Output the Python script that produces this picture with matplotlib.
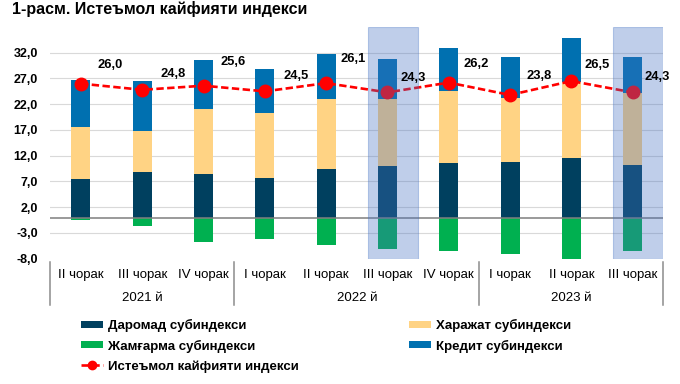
import matplotlib
matplotlib.use("Agg")
import matplotlib.pyplot as plt
import matplotlib.transforms as mtransforms
from matplotlib.patches import Patch
from matplotlib.lines import Line2D
import numpy as np

plt.rcParams['font.family'] = ['Liberation Sans', 'DejaVu Sans']

# ---- data ----
quarters = ["II чорак", "III чорак", "IV чорак",
            "I чорак", "II чорак", "III чорак", "IV чорак",
            "I чорак", "II чорак", "III чорак"]
years = ["2021 й", "2022 й", "2023 й"]
year_sizes = [3, 4, 3]
income = [7.4, 8.85, 8.4, 7.7, 9.5, 10.0, 10.5, 10.8, 11.6, 10.15]
expense = [10.1, 7.95, 12.6, 12.6, 13.6, 13.1, 14.0, 12.4, 14.7, 13.95]
credit = [9.2, 9.8, 9.5, 8.5, 8.6, 7.7, 8.4, 7.9, 8.6, 7.0]
savings = [-0.5, -1.7, -4.7, -4.2, -5.4, -6.2, -6.5, -7.1, -8.0, -6.55]
index_vals = [26.0, 24.8, 25.6, 24.5, 26.1, 24.3, 26.2, 23.8, 26.5, 24.3]
highlighted = [5, 9]
yticks = [-8, -3, 2, 7, 12, 17, 22, 27, 32]

names = ["Даромад субиндекси", "Харажат субиндекси", "Жамғарма субиндекси",
         "Кредит субиндекси", "Истеъмол кайфияти индекси"]
title = "1-расм. Истеъмол кайфияти индекси"

# ---- style ----
c_income = "#00405F"
c_expense = "#FFD384"
c_savings = "#00B050"
c_credit = "#0070B0"
c_line = "#FF0000"
label_offsets = [(29, -19), (31, -16), (30, -24), (31, -15), (27, -24),
                 (26, -14), (27, -19), (29, -19), (26, -16), (25, -15)]  # pixels

W, H = 680, 384
fig = plt.figure(figsize=(W / 100, H / 100), dpi=100)
ax = fig.add_axes([50.3 / W, 1 - 258.7 / H, 613 / W, (258.7 - 27) / H])

x = np.arange(len(quarters))
bw = 0.31
inc = np.array(income)
exp_ = np.array(expense)
cre = np.array(credit)

ax.bar(x, inc, bw, color=c_income, zorder=2)
ax.bar(x, exp_, bw, bottom=inc, color=c_expense, zorder=2)
ax.bar(x, cre, bw, bottom=inc + exp_, color=c_credit, zorder=2)
ax.bar(x, savings, bw, color=c_savings, zorder=2)

ax.plot(x, index_vals, color=c_line, lw=1.9, ls=(0, (2.8, 1.3)),
        marker="o", ms=9, mfc=c_line, mec=c_line, zorder=3)

for i in highlighted:
    ax.axvspan(i - 0.32, i + 0.5, facecolor="#4472C4", edgecolor="#4472C4",
               lw=0.8, alpha=0.34, zorder=4)

for i, v in enumerate(index_vals):
    dx, dy = label_offsets[i]
    ax.annotate(f"{v:.1f}".replace(".", ","), (x[i], v),
                xytext=(dx * 0.72, -dy * 0.72), textcoords="offset points",
                ha="center", va="center", fontsize=9.3, fontweight="bold",
                zorder=6)

ax.set_xlim(-0.5, len(quarters) - 0.5)
ax.set_ylim(-8, 37)
ax.set_yticks(yticks)
ax.set_yticklabels([f"{t:.1f}".replace(".", ",") for t in yticks],
                   fontsize=9, fontweight="bold")
ax.tick_params(axis="y", length=0, pad=9)
ax.set_xticks([])
for t in yticks[1:]:
    ax.axhline(t, color="#D9D9D9", lw=0.8, zorder=1)
ax.axhline(0, color="#7F7F7F", lw=1.1, zorder=2.5)
for s in ax.spines.values():
    s.set_visible(False)

trans = mtransforms.blended_transform_factory(ax.transData, ax.transAxes)
bounds = np.concatenate([[0], np.cumsum(year_sizes)]) - 0.5
for b in bounds:
    ax.plot([b, b], [-0.014, -0.2], transform=trans, color="#8C8C8C",
            lw=1.1, clip_on=False)
for i, q in enumerate(quarters):
    ax.text(x[i], -0.070, q, transform=trans, ha="center", va="center",
            fontsize=9.5)
for k, yname in enumerate(years):
    cx = (bounds[k] + bounds[k + 1]) / 2
    ax.text(cx, -0.170, yname, transform=trans, ha="center", va="center",
            fontsize=9.5)

fig.text(12 / W, 1 - 9 / H, title, ha="left", va="center",
         fontsize=11.5, fontweight="bold")

h_inc = Patch(facecolor=c_income)
h_exp = Patch(facecolor=c_expense)
h_sav = Patch(facecolor=c_savings)
h_cre = Patch(facecolor=c_credit)
h_line = Line2D([], [], color=c_line, lw=1.9, ls=(0, (2.8, 1.3)),
                marker="o", ms=6, mfc=c_line, mec=c_line)

common = dict(frameon=False, borderpad=0, borderaxespad=0,
              handlelength=1.67, handleheight=0.45, handletextpad=0.4,
              labelspacing=0.57, numpoints=1,
              prop={"size": 9.5, "weight": "bold"}, loc="upper left")
leg1 = fig.legend([h_inc, h_sav, h_line], [names[0], names[2], names[4]],
                  bbox_to_anchor=(81 / W, 1 - 319 / H), **common)
leg2 = fig.legend([h_exp, h_cre], [names[1], names[3]],
                  bbox_to_anchor=(409 / W, 1 - 319 / H), **common)

fig.savefig("out.png", dpi=100)
